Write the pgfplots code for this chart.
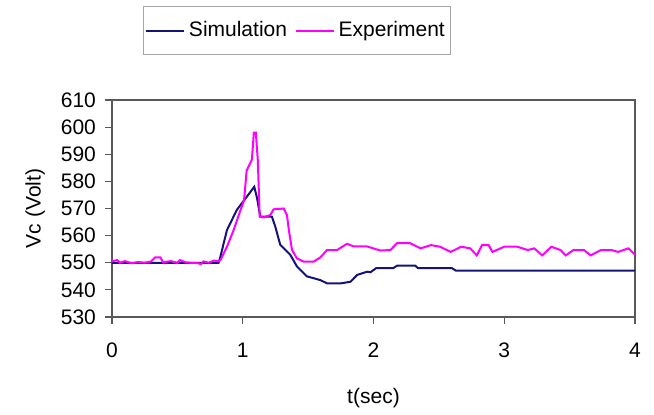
\documentclass[border=0pt]{standalone}
\usepackage{fontspec}
\setmainfont{Liberation Sans}
\usepackage{pgfplots}
\pgfplotsset{compat=1.18}
\definecolor{simblue}{RGB}{20,20,120}
\definecolor{expmag}{RGB}{255,0,255}

\begin{document}
\begin{tikzpicture}
\begin{axis}[
    scale only axis,
    width=261.5pt, height=108.5pt,
    xmin=0, xmax=4, ymin=530, ymax=610,
    xtick={0,1,2,3,4}, ytick={530,540,...,610},
    tick align=outside,
    major tick length=3.5pt,
    tick style={gray!70!black, line width=0.6pt},
    axis line style={gray!70!black, line width=0.8pt},
    xtick pos=bottom, ytick pos=left,
    /pgf/number format/assume math mode=true,
    ticklabel style={font=\fontsize{10.5}{12}\selectfont},
    xticklabel style={yshift=-6pt},
    yticklabel style={xshift=-1pt},
    xlabel={t(sec)}, ylabel={Vc (Volt)},
    label style={font=\fontsize{10.5}{12}\selectfont},
    xlabel style={at={(axis description cs:0.5,-0.373)}, anchor=center},
    ylabel style={at={(axis description cs:-0.147,0.5)}, anchor=center},
    legend columns=2,
    legend style={at={(axis description cs:0.354,1.433)}, anchor=north,
        draw=gray!70, line width=0.6pt, font=\fontsize{10.5}{12}\selectfont,
        inner xsep=1pt, inner ysep=5.5pt,
        /tikz/every even column/.append style={column sep=2pt}},
    legend image code/.code={\draw[#1] (0cm,0cm) -- (0.66cm,0cm);},
    clip=false,
]
\path (rel axis cs:-0.2141,-0.447) rectangle (rel axis cs:1.0363,1.4608);

\addplot[simblue, line width=1pt] coordinates {
(0,550) (0.815,550) (0.828,552) (0.879,562) (0.955,569.5) (1.032,574.4)
(1.088,578) (1.109,574) (1.134,567) (1.223,567) (1.249,563.3) (1.287,556.6)
(1.364,552.9) (1.415,548.6) (1.49,545) (1.594,543.6) (1.645,542.4) (1.75,542.4)
(1.824,543) (1.875,545.5) (1.951,546.7) (1.977,546.5) (2.02,548) (2.15,548)
(2.18,548.9) (2.32,548.9) (2.34,548) (2.6,548) (2.63,547.1) (4.0,547.1)
};
\addlegendentry{Simulation}

\addplot[expmag, line width=1pt] coordinates {
(0,550.5) (0.04,551) (0.06,550) (0.1,550.6) (0.15,549.8) (0.2,550.3) (0.25,550)
(0.3,550.5) (0.33,552) (0.37,552) (0.39,550.2) (0.45,550.6) (0.5,550) (0.52,551)
(0.56,550.2) (0.6,550) (0.65,550) (0.68,549.5) (0.7,550.5) (0.74,550) (0.78,550.8)
(0.815,550.5) (0.83,551) (0.88,556) (0.93,562) (0.98,569) (1.01,573) (1.03,584)
(1.07,588) (1.085,598) (1.10,598) (1.115,588) (1.13,567) (1.16,566.7) (1.211,567.6)
(1.236,569.7) (1.313,570) (1.338,567.6) (1.356,561) (1.377,554.7) (1.415,551.6)
(1.466,550.4) (1.543,550.4) (1.594,552) (1.645,554.7) (1.722,554.7) (1.798,557)
(1.849,556) (1.951,556) (2.054,554.5) (2.13,554.7) (2.18,557.2) (2.28,557.2)
(2.36,555.3) (2.44,556.5) (2.51,555.9) (2.59,554) (2.67,555.9) (2.74,555.3)
(2.79,552.7) (2.83,556.5) (2.88,556.5) (2.91,554) (3.0,555.9) (3.10,555.9)
(3.18,554.7) (3.23,555.3) (3.29,552.7) (3.36,555.9) (3.43,554.7) (3.47,552.7)
(3.53,554.7) (3.61,554.7) (3.66,552.7) (3.74,554.7) (3.82,554.7) (3.87,554)
(3.95,555.3) (4.0,553)
};
\addlegendentry{Experiment}
\end{axis}
\end{tikzpicture}
\end{document}
